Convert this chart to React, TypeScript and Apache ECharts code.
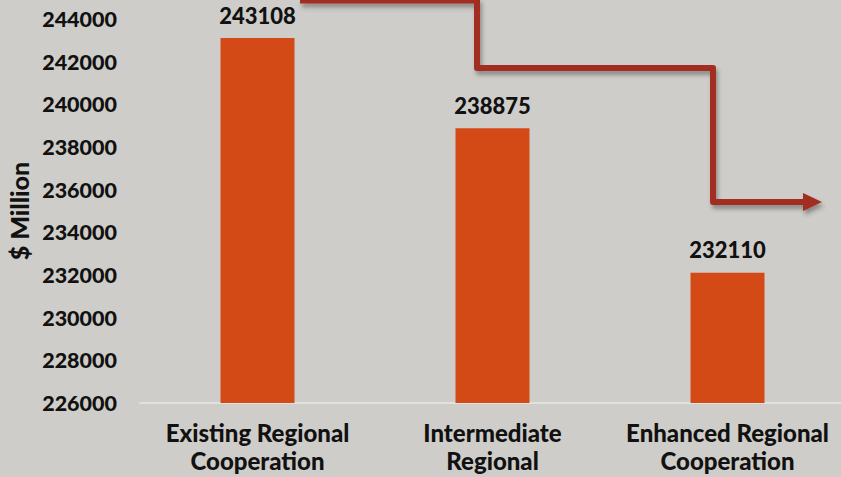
import React, { useEffect, useRef } from "react";
import * as echarts from "echarts";

const categories = ["Existing Regional\nCooperation", "Intermediate\nRegional", "Enhanced Regional\nCooperation"];
const values = [243108, 238875, 232110];
const yMin = 226000;
const yMax = 244000;
const yInterval = 2000;
const yName = "$ Million";

const FONT = "Lato";

export default function App() {
  const ref = useRef<HTMLDivElement>(null);
  useEffect(() => {
    if (!ref.current) return;
    const chart = echarts.init(ref.current, undefined, { renderer: "svg" });
    const arrowColor = "#a22d20";
    chart.setOption({
      animation: false,
      backgroundColor: "#cfcdc9",
      grid: { left: 140, right: -4, top: 19, bottom: 74, containLabel: false, outerBoundsMode: "none" },
      xAxis: {
        type: "category",
        data: categories,
        axisLine: { show: true, lineStyle: { color: "#e3e1de", width: 2 } },
        axisTick: { show: false },
        axisLabel: {
          margin: 15,
          color: "#111",
          fontFamily: FONT,
          fontWeight: 900,
          fontSize: 24,
          lineHeight: 28,
          interval: 0,
        },
      },
      yAxis: {
        type: "value",
        min: yMin,
        max: yMax,
        interval: yInterval,
        name: yName,
        nameLocation: "middle",
        nameGap: 108,
        nameRotate: 90,
        nameTextStyle: { color: "#111", fontFamily: FONT, fontWeight: 900, fontSize: 25 },
        axisLine: { show: false },
        axisTick: { show: false },
        splitLine: { show: false },
        axisLabel: {
          margin: 23,
          color: "#111",
          fontFamily: FONT,
          fontWeight: 900,
          fontSize: 21.5,
          formatter: (v: number) => String(v),
        },
      },
      series: [
        {
          type: "bar",
          data: values,
          barWidth: 74,
          itemStyle: { color: "#d34a17" },
          label: {
            show: true,
            position: "top",
            distance: 12,
            color: "#111",
            fontFamily: FONT,
            fontWeight: 900,
            fontSize: 22,
          },
        },
      ],
      graphic: [
        {
          type: "polyline",
          shape: {
            points: [
              [300, 0.5],
              [477, 0.5],
              [477, 68],
              [713, 68],
              [713, 202],
              [806, 202],
            ],
          },
          style: {
            stroke: arrowColor,
            lineWidth: 6,
            fill: "none",
            lineJoin: "round",
            shadowColor: "rgba(60,60,60,0.45)",
            shadowBlur: 4,
            shadowOffsetX: 2,
            shadowOffsetY: 4,
          },
          z: 10,
        },
        {
          type: "polygon",
          shape: { points: [[803, 193], [822, 202], [803, 211]] },
          style: {
            fill: arrowColor,
            shadowColor: "rgba(60,60,60,0.45)",
            shadowBlur: 4,
            shadowOffsetX: 2,
            shadowOffsetY: 4,
          },
          z: 10,
        },
      ],
    });
    return () => chart.dispose();
  }, []);
  return (
    <div
      ref={ref}
      style={{ position: "fixed", left: 0, top: 0, width: 841, height: 477 }}
    />
  );
}
